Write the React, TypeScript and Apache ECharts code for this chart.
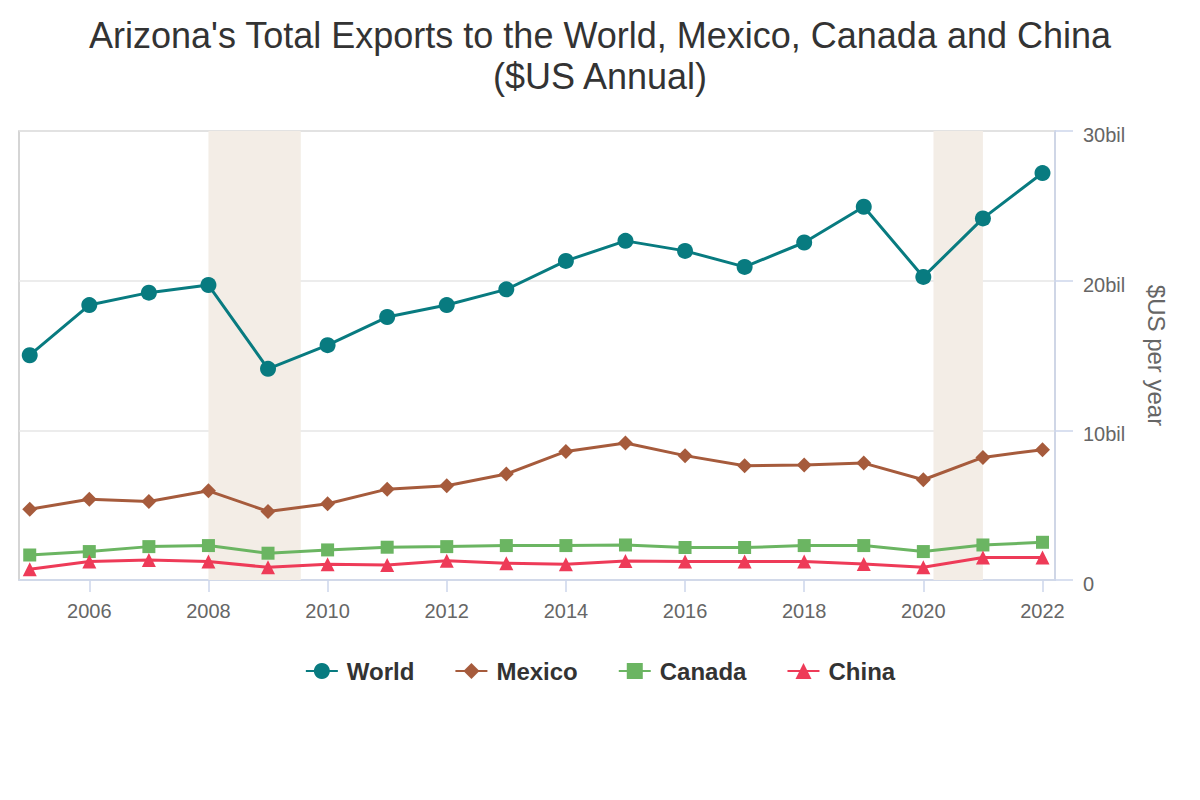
import React, { useEffect, useRef } from "react";
import * as echarts from "echarts";

const years = [2005, 2006, 2007, 2008, 2009, 2010, 2011, 2012, 2013, 2014, 2015, 2016, 2017, 2018, 2019, 2020, 2021, 2022];
const world = [15.02, 18.37, 19.2, 19.71, 14.11, 15.69, 17.57, 18.37, 19.42, 21.32, 22.66, 21.99, 20.92, 22.55, 24.94, 20.25, 24.16, 27.19];
const mexico = [4.73, 5.4, 5.25, 5.96, 4.58, 5.09, 6.07, 6.3, 7.08, 8.59, 9.15, 8.31, 7.64, 7.68, 7.81, 6.7, 8.19, 8.71];
const canada = [1.67, 1.9, 2.23, 2.3, 1.79, 2.01, 2.19, 2.23, 2.3, 2.3, 2.34, 2.17, 2.17, 2.3, 2.3, 1.9, 2.34, 2.52];
const china = [0.72, 1.23, 1.34, 1.23, 0.85, 1.05, 1.0, 1.29, 1.12, 1.05, 1.27, 1.23, 1.23, 1.23, 1.07, 0.85, 1.5, 1.5];
const xTickYears = [2006, 2008, 2010, 2012, 2014, 2016, 2018, 2020, 2022];
const yTicks = [0, 10, 20, 30];
const recessions = [
  [2008.0, 2009.55],
  [2020.17, 2021.0],
];

const seriesDefs = [
  { name: "World", values: world, color: "#087b80", symbol: "circle", size: 16 },
  { name: "Mexico", values: mexico, color: "#a65b3c", symbol: "diamond", size: 15 },
  { name: "Canada", values: canada, color: "#6bb562", symbol: "rect", size: 13 },
  { name: "China", values: china, color: "#ee3b58", symbol: "triangle", size: 14 },
];

export default function App() {
  const ref = useRef<HTMLDivElement>(null);
  useEffect(() => {
    if (!ref.current) return;
    const chart = echarts.init(ref.current, null, { renderer: "svg" });
    const font = "'Liberation Sans', Arial, sans-serif";
    chart.setOption({
      animation: false,
      textStyle: { fontFamily: font },
      title: {
        text: "Arizona's Total Exports to the World, Mexico, Canada and China\n($US Annual)",
        left: "center",
        top: 15,
        padding: 0,
        textStyle: { fontFamily: font, fontSize: 36, fontWeight: "normal", color: "#333333", lineHeight: 41 },
      },
      legend: {
        data: seriesDefs.map((s) => s.name),
        left: "center",
        top: 654,
        itemWidth: 32,
        itemHeight: 20,
        itemGap: 40,
        textStyle: { fontFamily: font, fontSize: 24, fontWeight: "bold", color: "#333333", padding: [0, 0, 0, 4] },
      },
      grid: {
        left: 19,
        right: 145,
        top: 131,
        bottom: 220,
        show: true,
        borderColor: "#c8c8c8",
        borderWidth: 1.5,
        containLabel: false,
      },
      xAxis: {
        type: "value",
        min: 2004.82,
        max: 2022.21,
        splitLine: { show: false },
        axisLine: { show: true, lineStyle: { color: "#ccd6eb", width: 1.5 } },
        axisTick: { show: true, length: 12, lineStyle: { color: "#ccd6eb", width: 1.5 }, customValues: xTickYears },
        axisLabel: {
          customValues: xTickYears,
          formatter: (v: number) => String(v),
          fontSize: 20,
          color: "#666666",
          margin: 21,
          fontFamily: font,
        },
      },
      yAxis: {
        type: "value",
        position: "right",
        min: 0,
        max: 30,
        interval: 10,
        name: "$US per year",
        nameLocation: "middle",
        nameRotate: -90,
        nameGap: 89,
        nameTextStyle: { fontSize: 24, color: "#666666", fontFamily: font },
        axisLine: { show: true, lineStyle: { color: "#ccd6eb", width: 1.5 } },
        axisTick: { show: true, length: 18, lineStyle: { color: "#ccd6eb", width: 1.5 } },
        splitLine: { show: true, lineStyle: { color: "#e6e6e6", width: 1.5 } },
        axisLabel: {
          formatter: (v: number) => (v === 0 ? "0" : v + "bil"),
          fontSize: 20,
          color: "#666666",
          margin: 28,
          verticalAlign: "top",
          lineHeight: 8,
          fontFamily: font,
          customValues: yTicks,
        },
      },
      series: [
        {
          name: "recessions",
          type: "line",
          data: [],
          silent: true,
          z: 1,
          markArea: {
            silent: true,
            itemStyle: { color: "#f3ede6" },
            data: recessions.map((r) => [{ xAxis: r[0] }, { xAxis: r[1] }]),
          },
        },
        ...seriesDefs.map((s) => ({
          name: s.name,
          type: "line",
          data: years.map((y, i) => [y, s.values[i]]),
          symbol: s.symbol,
          symbolSize: s.size,
          showSymbol: true,
          z: 3,
          lineStyle: { color: s.color, width: 3 },
          itemStyle: { color: s.color },
          emphasis: { disabled: true },
        })),
      ],
    });
    return () => chart.dispose();
  }, []);
  return <div ref={ref} style={{ position: "absolute", left: 0, top: 0, width: 1200, height: 800 }} />;
}
